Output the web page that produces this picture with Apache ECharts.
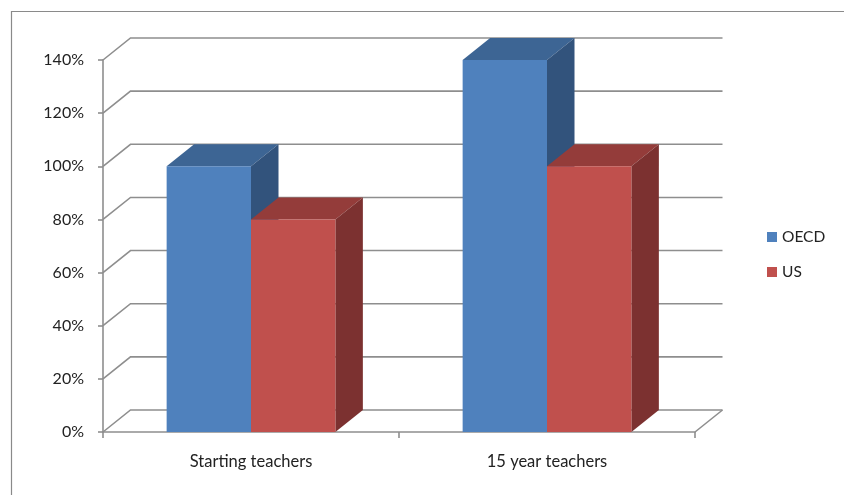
<!DOCTYPE html>
<html>
<head>
<meta charset="utf-8">
<script src="https://cdn.jsdelivr.net/npm/echarts@6/dist/echarts.min.js"></script>
<style>
html,body{margin:0;padding:0;background:#fff;}
#chart{width:844px;height:495px;}
</style>
</head>
<body>
<div id="chart"></div>
<script>
// ---- data ----
var categories = ['Starting teachers', '15 year teachers'];
var seriesNames = ['OECD', 'US'];
var oecdValues = [100, 140];
var usValues = [80, 100];
var yTicks = [0, 20, 40, 60, 80, 100, 120, 140];

// ---- style ----
var DX = 27.5, DY = 22;
var BAR_RATIO = 0.285;
var colors = {
  OECD: {front: '#4F81BD', top: '#3D6594', side: '#32537C'},
  US:   {front: '#C0504D', top: '#943C3A', side: '#7C3130'}
};
var gridColor = '#8E8E8E';
var FONT = 'Lato, "Open Sans", sans-serif';

var chart = echarts.init(document.getElementById('chart'));

function barRenderer(seriesIdx, name) {
  return function (params, api) {
    var cat = api.value(0), val = api.value(1);
    var top = api.coord([cat, val]);
    var base = api.coord([cat, 0]);
    var w = api.size([1, 0])[0] * BAR_RATIO;
    var x0 = top[0] + (seriesIdx === 0 ? -w : 0);
    var x1 = x0 + w;
    var yt = top[1], yb = base[1];
    var c = colors[name];
    return {
      type: 'group',
      children: [
        {type: 'polygon', shape: {points: [[x0, yt], [x1, yt], [x1 + DX, yt - DY], [x0 + DX, yt - DY]]},
          style: {fill: c.top}},
        {type: 'polygon', shape: {points: [[x1, yt], [x1 + DX, yt - DY], [x1 + DX, yb - DY], [x1, yb]]},
          style: {fill: c.side}},
        {type: 'rect', shape: {x: x0, y: yt, width: w, height: yb - yt},
          style: {fill: c.front}}
      ]
    };
  };
}

function gridRenderer(params, api) {
  var v = api.value(0);
  var cs = params.coordSys;
  var p = api.coord([0, v]);
  var y = p[1];
  var xl = cs.x, xr = cs.x + cs.width;
  var children = [
    {type: 'polyline', shape: {points: [[xl, y], [xl + DX, y - DY], [xr + DX, y - DY]]},
      style: {stroke: gridColor, lineWidth: 1.6, fill: null}}
  ];
  if (v === 0) {
    children.push({type: 'line', shape: {x1: xr, y1: y, x2: xr + DX, y2: y - DY},
      style: {stroke: gridColor, lineWidth: 1.6}});
  }
  return {type: 'group', children: children};
}

chart.setOption({
  animation: false,
  backgroundColor: '#fff',
  graphic: [
    {type: 'polyline', shape: {points: [[11.5, 495], [11.5, 11.5], [844, 11.5]]},
      style: {stroke: '#8A8A8A', lineWidth: 1.2, fill: null}, silent: true}
  ],
  legend: {
    orient: 'vertical',
    left: 767, top: 229, padding: 0,
    itemWidth: 10, itemHeight: 10, itemGap: 19,
    icon: 'rect',
    textStyle: {fontFamily: FONT, fontSize: 15.5, color: '#222'},
    data: [{name: 'OECD', itemStyle: {color: colors.OECD.front}},
           {name: 'US', itemStyle: {color: colors.US.front}}]
  },
  grid: {left: 103, right: 149, top: 60, bottom: 63},
  xAxis: {
    type: 'category',
    data: categories,
    axisLine: {lineStyle: {color: gridColor, width: 1.6}},
    axisTick: {show: true, length: 6, lineStyle: {color: gridColor, width: 1.6}},
    axisLabel: {fontFamily: FONT, fontSize: 16.5, color: '#222', margin: 21},
    splitLine: {show: false}
  },
  yAxis: {
    type: 'value',
    min: 0, max: 140, interval: 20,
    axisLine: {show: true, lineStyle: {color: gridColor, width: 1.6}},
    axisTick: {show: true, length: 5, lineStyle: {color: gridColor, width: 1.6}},
    axisLabel: {formatter: '{value}%', fontFamily: FONT, fontSize: 16, color: '#222', margin: 19},
    splitLine: {show: false}
  },
  series: [
    {type: 'custom', name: 'grid', renderItem: gridRenderer, data: yTicks.map(function (t) { return [t]; }),
      encode: {y: 0}, z: 1, silent: true},
    {type: 'custom', name: 'OECD', renderItem: barRenderer(0, 'OECD'),
      data: oecdValues.map(function (v, i) { return [i, v]; }), encode: {x: 0, y: 1}, z: 3,
      itemStyle: {color: colors.OECD.front}},
    {type: 'custom', name: 'US', renderItem: barRenderer(1, 'US'),
      data: usValues.map(function (v, i) { return [i, v]; }), encode: {x: 0, y: 1}, z: 4,
      itemStyle: {color: colors.US.front}}
  ]
});
</script>
</body>
</html>
